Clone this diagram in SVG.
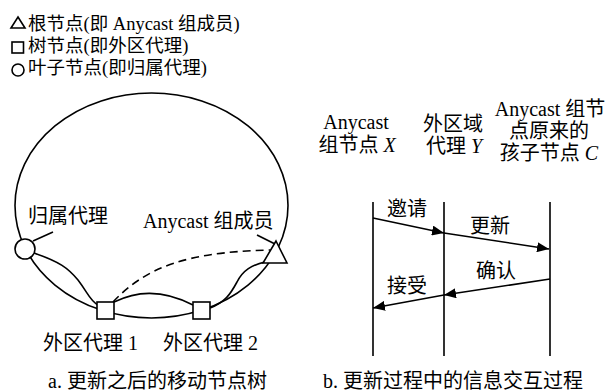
<svg xmlns="http://www.w3.org/2000/svg" width="606" height="392" viewBox="0 0 606 392">
<style>
text{font-family:"Liberation Serif","Noto Sans CJK SC",serif;font-size:20px;fill:#000}
.lg{font-size:18.5px}
.s{fill:none;stroke:#000;stroke-width:1.6}
.n{fill:#fff;stroke:#000;stroke-width:1.6}
.m{text-anchor:middle}
</style>
<defs>
<marker id="ah" viewBox="0 0 12 10" refX="12" refY="5" markerWidth="12" markerHeight="10" markerUnits="userSpaceOnUse" orient="auto">
<path d="M0,0 L12,5 L0,10 Z" fill="#000"/>
</marker>
</defs>
<g id="legend">
<path class="n" d="M18,17 L25,28 L11,28 Z"/>
<rect class="n" x="12" y="42" width="11.5" height="11"/>
<circle class="n" cx="18" cy="70" r="6"/>
<text class="lg" x="28" y="30">根节点(即 Anycast 组成员)</text>
<text class="lg" x="28" y="52">树节点(即外区代理)</text>
<text class="lg" x="28" y="74">叶子节点(即归属代理)</text>
</g>
<g id="connectors">
<ellipse class="s" cx="151.5" cy="205.5" rx="136.5" ry="112.5"/>
<path class="s" d="M34,253 C60,262 68,268 78,280 C88,293 90,301 98,305"/>
<path class="s" d="M114,302 C135,292 160,288 193,305"/>
<path class="s" d="M210,308 C225,302 230,295 237,282 C243,270 252,265 265,262"/>
<path class="s" d="M113,302 C145,268 185,252 270,250" stroke-dasharray="8,5"/>
<path class="s" d="M33,241 L53,232"/>
<path class="s" d="M257,235 L277,245"/>
<path class="s" d="M373,202 V356 M444,202 V356 M550,202 V356"/>
<path class="s" d="M373,218 L444,233" marker-end="url(#ah)"/>
<path class="s" d="M444,233 L549,249" marker-end="url(#ah)"/>
<path class="s" d="M550,279 L444,295" marker-end="url(#ah)"/>
<path class="s" d="M444,295 L373,308" marker-end="url(#ah)"/>
</g>
<g id="home-agent">
<circle class="n" cx="25" cy="249" r="10"/>
<text x="28" y="223">归属代理</text>
</g>
<g id="anycast-member">
<path class="n" d="M276,241 L287,263 L263,263 Z"/>
<text x="143" y="228">Anycast 组成员</text>
</g>
<g id="foreign-agent-1">
<rect class="n" x="97" y="302" width="17" height="17"/>
<text x="43" y="350">外区代理 1</text>
</g>
<g id="foreign-agent-2">
<rect class="n" x="193" y="302" width="17" height="17"/>
<text x="163" y="350">外区代理 2</text>
</g>
<g id="node-x">
<text class="m" x="356" y="129">Anycast</text>
<text class="m" x="357" y="152">组节点 <tspan font-style="italic">X</tspan></text>
</g>
<g id="node-y">
<text class="m" x="453" y="131">外区域</text>
<text class="m" x="454" y="153">代理 <tspan font-style="italic">Y</tspan></text>
</g>
<g id="node-c">
<text class="m" x="550" y="116">Anycast 组节</text>
<text class="m" x="549" y="138">点原来的</text>
<text class="m" x="549" y="160">孩子节点 <tspan font-style="italic">C</tspan></text>
</g>
<g id="labels">
<text class="m" x="407" y="216">邀请</text>
<text class="m" x="490" y="233">更新</text>
<text class="m" x="496" y="278">确认</text>
<text class="m" x="407" y="293">接受</text>
<text x="48" y="388">a. 更新之后的移动节点树</text>
<text x="323" y="388">b. 更新过程中的信息交互过程</text>
</g>
</svg>
